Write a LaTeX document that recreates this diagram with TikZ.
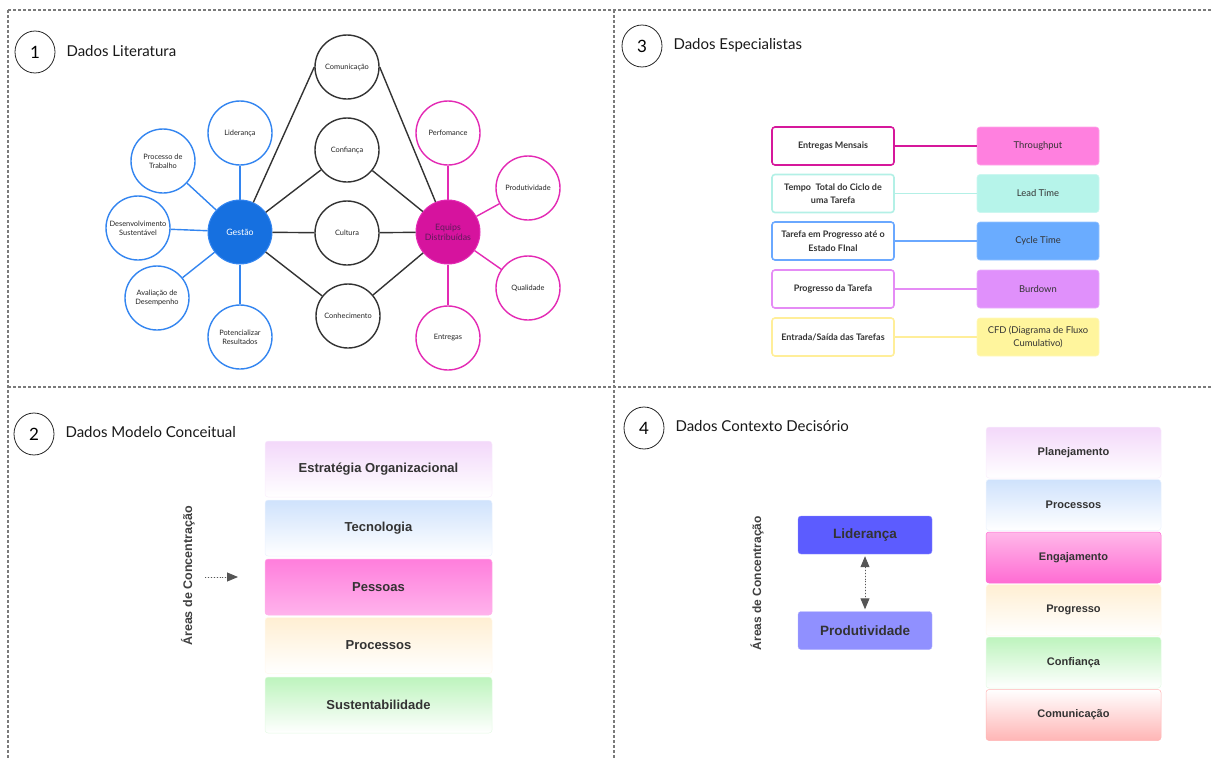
\documentclass[tikz,border=0pt]{standalone}
\usepackage{fontspec}
\setmainfont{Lato}
\newfontfamily\arialfont{Liberation Sans}
\usetikzlibrary{arrows.meta,shapes.geometric}

\definecolor{framegray}{HTML}{7A7A7A}
\definecolor{ink}{HTML}{333333}
\definecolor{gblue}{HTML}{1670E0}
\definecolor{gblueline}{HTML}{3385F0}
\definecolor{epink}{HTML}{D6139E}
\definecolor{epinkline}{HTML}{E32AB4}
\definecolor{etext}{HTML}{5E1A5A}
% metric colours
\definecolor{mMag}{HTML}{D6189B}
\definecolor{mMagF}{HTML}{FF80DF}
\definecolor{mTeal}{HTML}{B3F0E6}
\definecolor{mTealF}{HTML}{B6F4EA}
\definecolor{mBlue}{HTML}{6AA8FF}
\definecolor{mBlueF}{HTML}{6AACFF}
\definecolor{mViol}{HTML}{E58CF5}
\definecolor{mViolF}{HTML}{E090FB}
\definecolor{mYel}{HTML}{FFEE99}
\definecolor{mYelF}{HTML}{FFF59D}
% band colours
\definecolor{bLilac}{HTML}{F3D8FA}
\definecolor{bSky}{HTML}{CFE2FC}
\definecolor{bPink}{HTML}{FF7EDC}
\definecolor{bPinkB}{HTML}{FFB3EC}
\definecolor{bPeach}{HTML}{FFEFD3}
\definecolor{bMint}{HTML}{BDF4BD}
\definecolor{bRose}{HTML}{FFB5B5}
\definecolor{bEngT}{HTML}{FFB8E9}
\definecolor{bEngB}{HTML}{FF6CD3}
\definecolor{lidF}{HTML}{5C5CFF}
\definecolor{prodF}{HTML}{9090FF}
\definecolor{arrowgray}{HTML}{555555}

\begin{document}
\begin{tikzpicture}[x=1pt,y=-1pt,
  frame/.style={draw=framegray, line width=1.1pt, dash pattern=on 3pt off 2pt},
  numcircle/.style={draw=black!85, ellipse, minimum width=40pt, minimum height=42pt, inner sep=0pt, line width=0.8pt, font=\fontsize{17}{17}\selectfont},
  title/.style={anchor=west, font=\fontsize{15}{16}\selectfont, text=black!90},
  bubble/.style={circle, minimum size=64pt, inner sep=0pt, align=center, fill=white, line width=1.4pt, text=black!85, font=\fontsize{7.4}{9}\selectfont},
  bluebub/.style={bubble, draw=gblueline},
  pinkbub/.style={bubble, draw=epinkline},
  graybub/.style={bubble, draw=black!80},
  blueline/.style={draw=gblueline, line width=1.4pt},
  pinkline/.style={draw=epinkline, line width=1.4pt},
  grayline/.style={draw=black!80, line width=1.4pt},
  metricL/.style={rectangle, rounded corners=3pt, minimum width=122pt, minimum height=38pt, inner sep=1pt, align=center, fill=white, line width=1.6pt, text=ink, font=\bfseries\fontsize{9}{13.5}\selectfont},
  metricR/.style={rectangle, rounded corners=3pt, minimum width=122pt, minimum height=38pt, inner sep=1pt, align=center, line width=0.6pt, text=ink, font=\fontsize{9.4}{13.5}\selectfont},
  band/.style={rectangle, rounded corners=3pt, inner sep=0pt, line width=0.5pt, text=ink, font=\arialfont\bfseries\fontsize{13}{14}\selectfont},
  bandA/.style={band, minimum width=227pt, minimum height=56pt},
  bandB/.style={band, minimum width=175pt, minimum height=51pt, font=\arialfont\bfseries\fontsize{11}{13}\selectfont},
  focus/.style={rectangle, rounded corners=3pt, minimum width=134pt, minimum height=38pt, inner sep=0pt, text=ink, font=\arialfont\bfseries\fontsize{13.5}{14}\selectfont},
  sidelabel/.style={rotate=90, text=black!75, font=\arialfont\bfseries\fontsize{12.5}{14}\selectfont},
  tip/.tip={Triangle[length=11pt,width=9pt]},
  dotarrow/.style={draw=arrowgray, fill=arrowgray, line width=0.9pt, dotted, -tip}
]
\useasboundingbox (0,0) rectangle (1211,758);

% ---------- dashed frame ----------
\draw[frame] (8,10) -- (1211,10);
\draw[frame] (8,10) -- (8,758);
\draw[frame] (614,10) -- (614,758);
\draw[frame] (8,387) -- (1211,387);

% ---------- panel 1: literature ----------
\node[numcircle] (c1) at (35,52) {1};
\node[title] (t1) at (63,51) {Dados Literatura};

\node[circle, minimum size=64pt, inner sep=0pt, fill=gblue, draw=gblueline, line width=1pt, text=white, font=\fontsize{8.8}{10}\selectfont] (gestao) at (240,232) {Gestão};
\node[circle, minimum size=64pt, inner sep=0pt, fill=epink, draw=epinkline, line width=1pt, align=center, text=etext, font=\fontsize{8.8}{10}\selectfont] (equipes) at (448,232) {Equips\\Distribuídas};

\node[bluebub] (lid1) at (240,133) {Liderança};
\node[bluebub] (proc1) at (163,161) {Processo de\\Trabalho};
\node[bluebub] (desen) at (138,228) {Desenvolvimento\\Sustentável};
\node[bluebub] (aval) at (157,298) {Avaliação de\\Desempenho};
\node[bluebub] (pot) at (240,337) {Potencializar\\Resultados};

\node[graybub] (comu) at (347,67) {Comunicação};
\node[graybub] (conf) at (347,150) {Confiança};
\node[graybub] (cult) at (347,233) {Cultura};
\node[graybub] (conh) at (348,316) {Conhecimento};

\node[pinkbub] (perf) at (448,133) {Perfomance};
\node[pinkbub] (prod1) at (528,188) {Produtividade};
\node[pinkbub] (qual) at (528,288) {Qualidade};
\node[pinkbub] (entr) at (448,338) {Entregas};

\foreach \s in {lid1,proc1,desen,aval,pot} \draw[blueline] (gestao) -- (\s);
\foreach \s in {perf,prod1,qual,entr} \draw[pinkline] (equipes) -- (\s);
\draw[grayline] (gestao) -- (comu.west);
\draw[grayline] (comu.east) -- (equipes);
\draw[grayline] (gestao) -- (conf);
\draw[grayline] (conf) -- (equipes);
\draw[grayline] (gestao) -- (cult);
\draw[grayline] (cult) -- (equipes);
\draw[grayline] (gestao) -- (conh);
\draw[grayline] (conh) -- (equipes);

% ---------- panel 3: specialists ----------
\node[numcircle] (c3) at (642,46) {3};
\node[title] (t3) at (670,45) {Dados Especialistas};

\node[metricL, draw=mMag] (mL1) at (833,146) {Entregas Mensais};
\node[metricL, draw=mTeal] (mL2) at (833,193.5) {Tempo\ \ Total do Ciclo de\\uma Tarefa};
\node[metricL, draw=mBlue] (mL3) at (833,241) {Tarefa em Progresso até o\\Estado FInal};
\node[metricL, draw=mViol] (mL4) at (833,289) {Progresso da Tarefa};
\node[metricL, draw=mYel] (mL5) at (833,337) {Entrada/Saída das Tarefas};

\node[metricR, fill=mMagF, draw=mMagF!70!white] (mR1) at (1038,146) {Throughput};
\node[metricR, fill=mTealF, draw=mTealF!70!white] (mR2) at (1038,193.5) {Lead Time};
\node[metricR, fill=mBlueF, draw=mBlueF!70!white] (mR3) at (1038,241) {Cycle Time};
\node[metricR, fill=mViolF, draw=mViolF!70!white] (mR4) at (1038,289) {Burdown};
\node[metricR, fill=mYelF, draw=mYelF!70!white] (mR5) at (1038,337) {CFD (Diagrama de Fluxo\\Cumulativo)};

\draw[mMag, line width=1.6pt] (mL1) -- (mR1);
\draw[mTeal, line width=1.6pt] (mL2) -- (mR2);
\draw[mBlue, line width=1.6pt] (mL3) -- (mR3);
\draw[mViol, line width=1.6pt] (mL4) -- (mR4);
\draw[mYel, line width=1.6pt] (mL5) -- (mR5);

% ---------- panel 2: conceptual model ----------
\node[numcircle] (c2) at (34,434) {2};
\node[title] (t2) at (62,432) {Dados Modelo Conceitual};

\node[bandA, top color=bLilac, bottom color=white, draw=bLilac!40!white] (estr) at (378.5,469) {Estratégia Organizacional};
\node[bandA, top color=bSky, bottom color=white, draw=bSky!40!white] (tecn) at (378.5,528) {Tecnologia};
\node[bandA, top color=bPink, bottom color=bPinkB, draw=bPink!60!white] (pess) at (378.5,587) {Pessoas};
\node[bandA, top color=bPeach, bottom color=white, draw=bPeach!40!white] (proc2) at (378.5,645.5) {Processos};
\node[bandA, top color=bMint, bottom color=white, draw=bMint!40!white] (sust) at (378.5,705) {Sustentabilidade};

\node[sidelabel] (areas2) at (188,576) {Áreas de Concentração};
\coordinate (a2s) at (205,577);
\coordinate (a2e) at (238,577);
\draw[dotarrow] (a2s) -- (a2e);

% ---------- panel 4: decision context ----------
\node[numcircle] (c4) at (644,428) {4};
\node[title] (t4) at (672,426) {Dados Contexto Decisório};

\node[bandB, top color=bLilac, bottom color=white, draw=bLilac!40!white] (plan) at (1073.5,452.5) {Planejamento};
\node[bandB, top color=bSky, bottom color=white, draw=bSky!40!white] (proc4) at (1073.5,505) {Processos};
\node[bandB, top color=bEngT, bottom color=bEngB, draw=bEngB] (enga) at (1073.5,557.5) {Engajamento};
\node[bandB, top color=bPeach, bottom color=white, draw=bPeach!40!white] (progr) at (1073.5,610) {Progresso};
\node[bandB, top color=bMint, bottom color=white, draw=bMint!40!white] (conf4) at (1073.5,662.5) {Confiança};
\node[bandB, top color=white, bottom color=bRose, draw=bRose] (comu4) at (1073.5,715) {Comunicação};

\node[sidelabel, font=\arialfont\bfseries\fontsize{12}{14}\selectfont] (areas4) at (757,583) {Áreas de Concentração};

\node[focus, fill=lidF, draw=lidF!70!white] (lid4) at (865,535) {Liderança};
\node[focus, fill=prodF, draw=prodF!70!white] (prod4) at (865,630.5) {Produtividade};
\draw[dotarrow, tip-tip, shorten <=2pt, shorten >=2pt] (lid4) -- (prod4);
\end{tikzpicture}
\end{document}
